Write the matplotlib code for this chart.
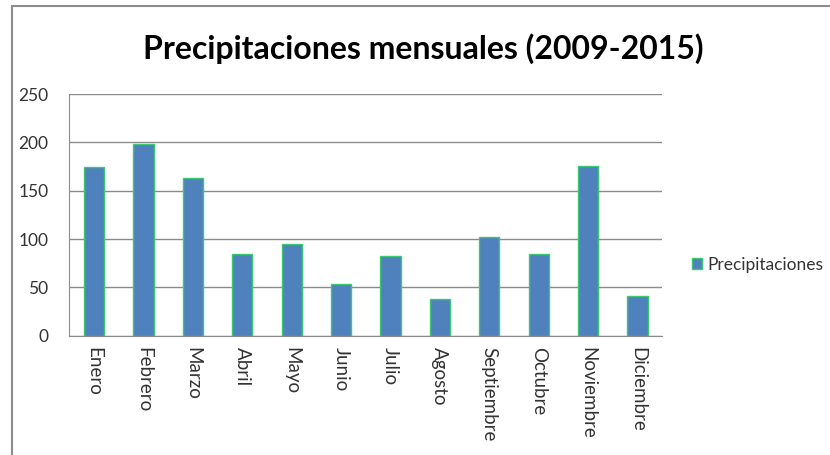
import matplotlib
matplotlib.use("Agg")
import matplotlib.pyplot as plt
from matplotlib.patches import Patch, Rectangle

meses = ["Enero", "Febrero", "Marzo", "Abril", "Mayo", "Junio", "Julio",
         "Agosto", "Septiembre", "Octubre", "Noviembre", "Diciembre"]
precipitaciones = [175, 198, 163, 85, 95, 53, 82, 38, 102, 85, 176, 41]
yticks = [0, 50, 100, 150, 200, 250]

plt.rcParams['font.family'] = ['Lato', 'DejaVu Sans']

bar_color = "#4F81BD"
edge_color = "#3CC872"
grid_color = "#8C8C8C"
text_color = "#333333"

fig = plt.figure(figsize=(8.3, 4.55), dpi=100)
ax = fig.add_axes([0.0837, 0.2622, 0.714, 0.5312])

x = list(range(len(meses)))
ax.bar(x, precipitaciones, width=0.41, color=bar_color, edgecolor=edge_color,
       linewidth=1.0, zorder=3)

ax.set_xlim(-0.5, len(meses) - 0.5)
ax.set_ylim(0, 250)
ax.set_yticks(yticks)
ax.set_yticklabels([str(v) for v in yticks], fontsize=12.5, color=text_color)
ax.set_xticks(x)
ax.set_xticklabels(meses, rotation=270, fontsize=13.5, color=text_color,
                   va="top", ha="center")
ax.tick_params(axis="both", length=0)
ax.tick_params(axis="y", pad=15)
ax.tick_params(axis="x", pad=8)

ax.yaxis.grid(True, color=grid_color, linewidth=1.0, zorder=0)
ax.set_axisbelow(True)
for side in ["top", "right"]:
    ax.spines[side].set_visible(False)
ax.spines["left"].set_color(grid_color)
ax.spines["bottom"].set_color(grid_color)

# title
fig.text(0.51, 0.894, "Precipitaciones mensuales (2009-2015)", ha="center",
         va="center", fontsize=23, fontweight="bold", color="black")

# legend
handle = Patch(facecolor=bar_color, edgecolor=edge_color, linewidth=1.0,
               label="Precipitaciones")
fig.legend(handles=[handle], loc="center left", bbox_to_anchor=(0.825, 0.418),
           frameon=False, fontsize=12.5, handlelength=0.6, handleheight=0.6,
           handletextpad=0.3, borderaxespad=0, labelcolor=text_color)

# outer border (only top and left edges fall inside the picture)
border = Rectangle((12 / 830, -0.1), 1.2, 1 - 6 / 455 + 0.1,
                   transform=fig.transFigure, fill=False,
                   edgecolor="#8C8C8C", linewidth=1.5, clip_on=False)
fig.patches.append(border)

fig.savefig("out.png", dpi=100, facecolor="white")
